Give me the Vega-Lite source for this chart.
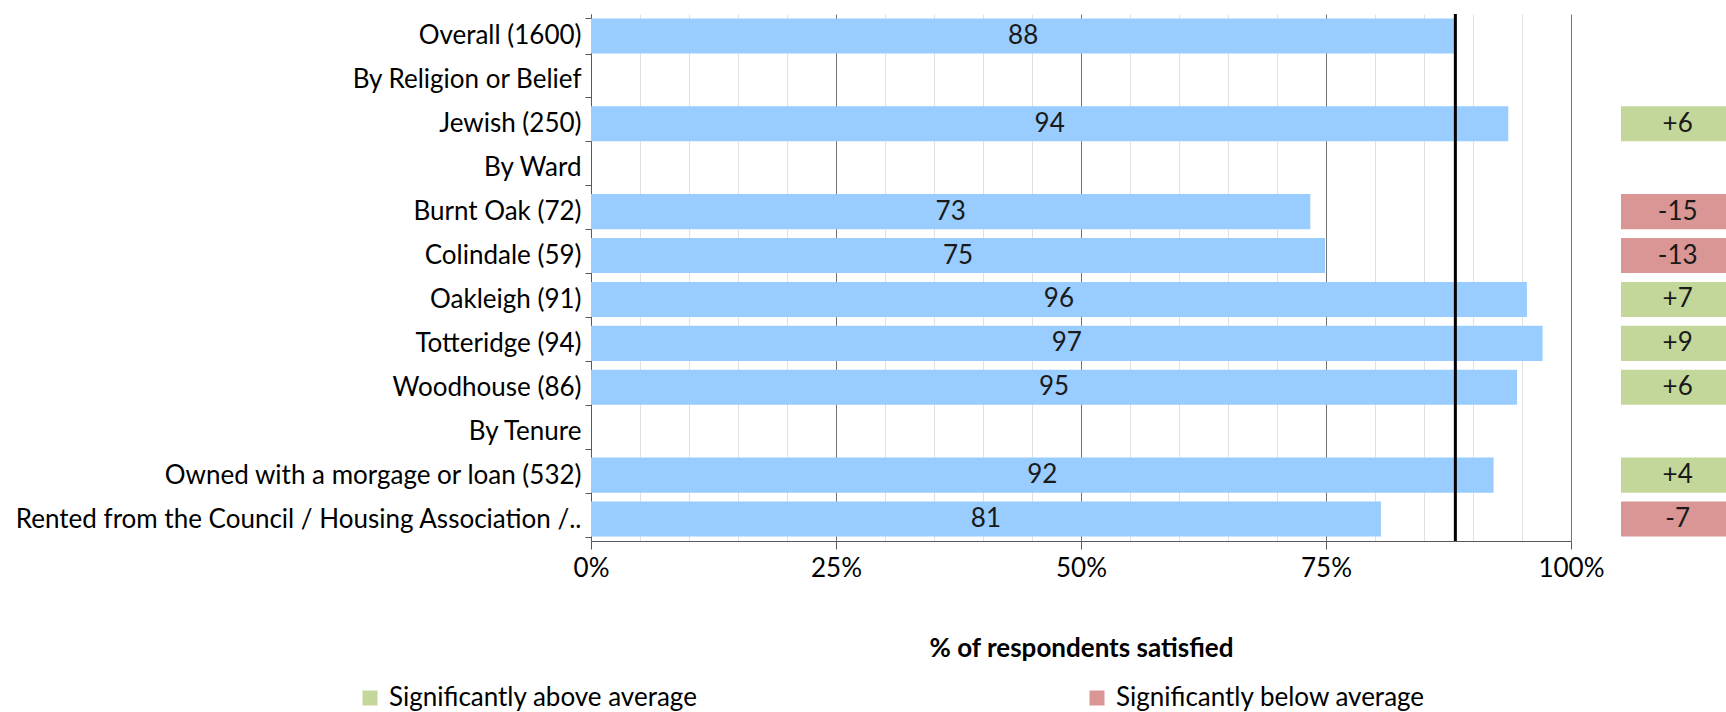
{
  "$schema": "https://vega.github.io/schema/vega-lite/v6.json",
  "padding": {"left": 5, "top": 1, "right": 0, "bottom": 0},
  "spacing": 50,
  "bounds": "flush",
  "config": {"font": "Lato", "view": {"stroke": null}},
  "datasets": {
    "rows": [
      {"group": "Overall (1600)", "value": 0.882, "label": "88", "diff": null, "sig": null},
      {"group": "Jewish (250)", "value": 0.936, "label": "94", "diff": "+6", "sig": "Significantly above average"},
      {"group": "Burnt Oak (72)", "value": 0.734, "label": "73", "diff": "-15", "sig": "Significantly below average"},
      {"group": "Colindale (59)", "value": 0.749, "label": "75", "diff": "-13", "sig": "Significantly below average"},
      {"group": "Oakleigh (91)", "value": 0.955, "label": "96", "diff": "+7", "sig": "Significantly above average"},
      {"group": "Totteridge (94)", "value": 0.971, "label": "97", "diff": "+9", "sig": "Significantly above average"},
      {"group": "Woodhouse (86)", "value": 0.945, "label": "95", "diff": "+6", "sig": "Significantly above average"},
      {"group": "Owned with a morgage or loan (532)", "value": 0.921, "label": "92", "diff": "+4", "sig": "Significantly above average"},
      {"group": "Rented from the Council / Housing Association /..", "value": 0.806, "label": "81", "diff": "-7", "sig": "Significantly below average"}
    ]
  },
  "hconcat": [
    {
      "width": 980,
      "height": 527,
      "data": {"name": "rows"},
      "layer": [
        {
          "layer": [
            {
              "mark": {"type": "bar", "color": "#99CCFF"},
              "encoding": {
                "y": {
                  "field": "group", "type": "nominal",
                  "scale": {"domain": ["Overall (1600)", "By Religion or Belief", "Jewish (250)", "By Ward", "Burnt Oak (72)", "Colindale (59)", "Oakleigh (91)", "Totteridge (94)", "Woodhouse (86)", "By Tenure", "Owned with a morgage or loan (532)", "Rented from the Council / Housing Association /.."], "paddingInner": 0.2, "paddingOuter": 0.1},
                  "axis": {"title": null, "labelFontSize": 26, "labelColor": "#000", "labelLimit": 800, "tickSize": 6, "tickColor": "#595959", "domainColor": "#595959", "labelPadding": 4, "tickBand": "extent", "minExtent": 586, "maxExtent": 586, "grid": false}
                },
                "x": {
                  "field": "value", "type": "quantitative",
                  "scale": {"domain": [0, 1]},
                  "axis": {
                    "title": "% of respondents satisfied", "titleFontSize": 26, "titleFontWeight": "bold", "titleColor": "#000", "titlePadding": 54,
                    "values": [0, 0.05, 0.1, 0.15, 0.2, 0.25, 0.3, 0.35, 0.4, 0.45, 0.5, 0.55, 0.6, 0.65, 0.7, 0.75, 0.8, 0.85, 0.9, 0.95, 1],
                    "format": ".0%",
                    "labelExpr": "datum.value % 0.25 === 0 ? datum.label : ''",
                    "labelFontSize": 26, "labelColor": "#000", "labelFlush": false, "labelOverlap": false, "labelPadding": 6,
                    "tickSize": 8,
                    "tickColor": {"condition": {"test": "datum.value % 0.25 === 0", "value": "#595959"}, "value": "transparent"},
                    "domainColor": "#595959",
                    "grid": true,
                    "gridColor": {"condition": {"test": "datum.value % 0.25 === 0", "value": "#737373"}, "value": "#e0e0e0"}
                  }
                }
              }
            },
            {
              "transform": [{"filter": "datum.group === 'Overall (1600)'"}],
              "mark": {"type": "rule", "color": "#000000", "strokeWidth": 3},
              "encoding": {"x": {"field": "value", "type": "quantitative"}}
            }
          ]
        },
        {
          "mark": {"type": "text", "fontSize": 26, "color": "#1a1a1a"},
          "encoding": {
            "y": {"field": "group", "type": "nominal"},
            "x": {"field": "value", "type": "quantitative", "scale": {"domain": [0, 2]}, "axis": null},
            "text": {"field": "label"}
          }
        }
      ],
      "resolve": {"scale": {"x": "independent"}}
    },
    {
      "width": 105,
      "height": 527,
      "data": {"name": "rows"},
      "transform": [{"filter": "datum.diff != null"}],
      "layer": [
        {
          "mark": {"type": "bar"},
          "encoding": {
            "y": {
              "field": "group", "type": "nominal",
              "scale": {"domain": ["Overall (1600)", "By Religion or Belief", "Jewish (250)", "By Ward", "Burnt Oak (72)", "Colindale (59)", "Oakleigh (91)", "Totteridge (94)", "Woodhouse (86)", "By Tenure", "Owned with a morgage or loan (532)", "Rented from the Council / Housing Association /.."], "paddingInner": 0.2, "paddingOuter": 0.1},
              "axis": null
            },
            "x": {"datum": 0, "type": "quantitative", "scale": {"domain": [0, 1]}, "axis": null},
            "x2": {"datum": 1},
            "color": {
              "field": "sig", "type": "nominal",
              "scale": {"domain": ["Significantly above average", "Significantly below average"], "range": ["#C4D79B", "#D99694"]},
              "legend": {"title": null, "orient": "none", "legendX": -234, "legendY": 671, "direction": "horizontal", "columns": 2, "columnPadding": 386, "symbolType": "square", "symbolSize": 225, "symbolStrokeWidth": 0, "labelFontSize": 26, "labelColor": "#000", "labelOffset": 6, "labelLimit": 600, "padding": 0}
            }
          }
        },
        {
          "mark": {"type": "text", "fontSize": 26, "color": "#1a1a1a"},
          "encoding": {
            "y": {"field": "group", "type": "nominal"},
            "x": {"datum": 0.54, "type": "quantitative"},
            "text": {"field": "diff"}
          }
        }
      ]
    }
  ]
}
